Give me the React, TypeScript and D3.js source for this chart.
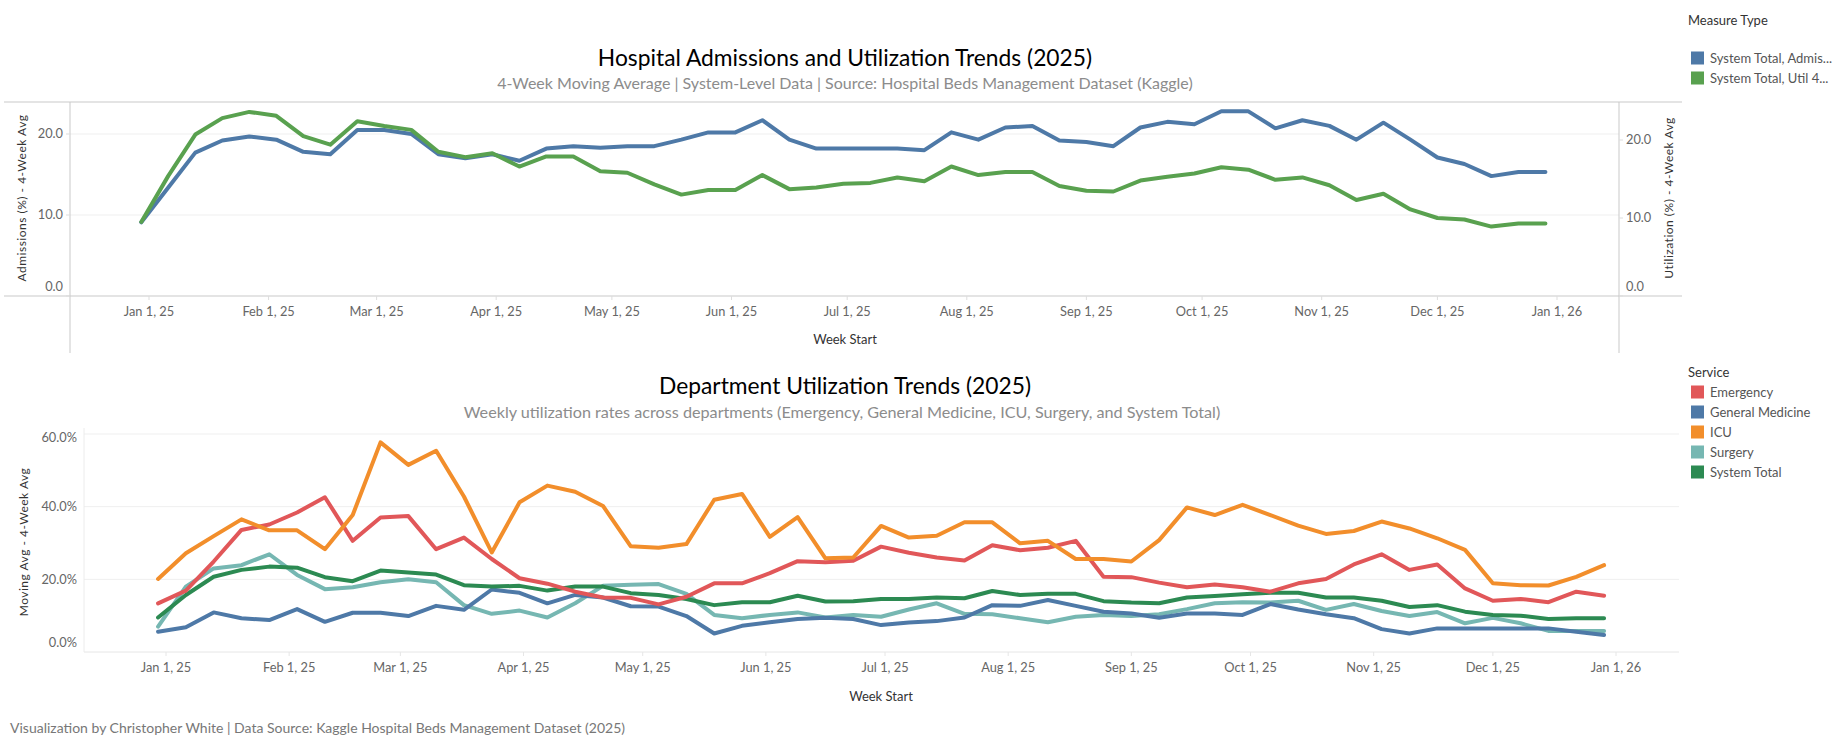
import React from 'react';
import * as d3 from 'd3';

// week start dates (Monday)
const weekStarts = [
  '2024-12-30', '2025-01-06', '2025-01-13', '2025-01-20', '2025-01-27',
  '2025-02-03', '2025-02-10', '2025-02-17', '2025-02-24',
  '2025-03-03', '2025-03-10', '2025-03-17', '2025-03-24', '2025-03-31',
  '2025-04-07', '2025-04-14', '2025-04-21', '2025-04-28',
  '2025-05-05', '2025-05-12', '2025-05-19', '2025-05-26',
  '2025-06-02', '2025-06-09', '2025-06-16', '2025-06-23', '2025-06-30',
  '2025-07-07', '2025-07-14', '2025-07-21', '2025-07-28',
  '2025-08-04', '2025-08-11', '2025-08-18', '2025-08-25',
  '2025-09-01', '2025-09-08', '2025-09-15', '2025-09-22', '2025-09-29',
  '2025-10-06', '2025-10-13', '2025-10-20', '2025-10-27',
  '2025-11-03', '2025-11-10', '2025-11-17', '2025-11-24',
  '2025-12-01', '2025-12-08', '2025-12-15', '2025-12-22', '2025-12-29',
];

// top chart: system total, 4-week averages
const admissionsAvg = [
  9.1, 13.4, 17.7, 19.2, 19.7, 19.3, 17.8, 17.5, 20.5, 20.5, 20.0, 17.5, 17.0, 17.5,
  16.7, 18.2, 18.5, 18.3, 18.5, 18.5, 19.3, 20.2, 20.2, 21.7, 19.3, 18.2, 18.2, 18.2,
  18.2, 18.0, 20.2, 19.3, 20.8, 21.0, 19.2, 19.0, 18.5, 20.8, 21.5, 21.2, 22.8, 22.8,
  20.7, 21.7, 21.0, 19.3, 21.4, 19.3, 17.1, 16.3, 14.8, 15.3, 15.3,
];
const utilizationAvg = [
  9.5, 15.4, 20.7, 22.8, 23.6, 23.1, 20.5, 19.4, 22.4, 21.8, 21.3, 18.5, 17.8, 18.3,
  16.6, 17.9, 17.9, 16.0, 15.8, 14.3, 13.0, 13.6, 13.6, 15.5, 13.7, 13.9, 14.4, 14.5,
  15.2, 14.7, 16.6, 15.5, 15.9, 15.9, 14.1, 13.5, 13.4, 14.8, 15.3, 15.7, 16.5, 16.2,
  14.9, 15.2, 14.2, 12.3, 13.1, 11.1, 10.0, 9.8, 8.9, 9.3, 9.3,
];

// bottom chart: utilization % by service
const emergency = [
  13.4, 16.9, 24.9, 33.6, 35.1, 38.4, 42.6, 30.6, 37.0, 37.4, 28.3, 31.5, 25.6, 20.3,
  18.8, 16.6, 15.0, 14.9, 13.1, 15.2, 18.9, 18.9, 21.7, 25.0, 24.7, 25.1, 29.0, 27.3,
  26.0, 25.2, 29.4, 28.0, 28.7, 30.6, 20.7, 20.6, 19.1, 17.8, 18.6, 17.8, 16.6, 18.9,
  20.1, 24.1, 26.9, 22.6, 24.1, 17.5, 14.1, 14.6, 13.7, 16.6, 15.5,
];
const generalMedicine = [
  5.6, 6.8, 10.9, 9.3, 8.8, 11.8, 8.3, 10.8, 10.8, 9.9, 12.7, 11.6, 17.2, 16.3,
  13.4, 15.7, 15.0, 12.6, 12.5, 9.9, 5.1, 7.2, 8.2, 9.1, 9.4, 9.1, 7.4, 8.1,
  8.5, 9.5, 12.9, 12.7, 14.3, 12.7, 11.1, 10.6, 9.4, 10.6, 10.6, 10.2, 13.2, 11.7,
  10.4, 9.3, 6.3, 5.1, 6.5, 6.5, 6.5, 6.5, 6.5, 5.6, 4.7,
];
const icu = [
  20.1, 27.2, 31.9, 36.5, 33.5, 33.5, 28.3, 37.7, 57.7, 51.5, 55.4, 42.8, 27.4, 41.2,
  45.8, 44.1, 40.2, 29.1, 28.7, 29.7, 41.9, 43.5, 31.7, 37.1, 25.8, 26.0, 34.7, 31.5,
  32.0, 35.7, 35.7, 29.9, 30.6, 25.6, 25.6, 24.9, 30.8, 39.8, 37.7, 40.5, 37.7, 34.8,
  32.5, 33.3, 35.9, 34.0, 31.3, 28.1, 18.9, 18.4, 18.3, 20.7, 23.9,
];
const surgery = [
  7.0, 18.0, 23.0, 23.9, 26.9, 21.2, 17.3, 17.8, 19.2, 20.0, 19.2, 12.9, 10.5, 11.4,
  9.5, 13.4, 18.2, 18.5, 18.7, 16.0, 10.2, 9.3, 10.2, 10.9, 9.5, 10.2, 9.7, 11.7,
  13.4, 10.5, 10.4, 9.3, 8.2, 9.7, 10.2, 9.9, 10.4, 11.8, 13.4, 13.7, 13.6, 14.1,
  11.6, 13.2, 11.3, 9.9, 11.0, 7.9, 9.4, 7.9, 5.8, 5.8, 5.8,
];
const systemTotal = [
  9.5, 15.7, 20.7, 22.6, 23.5, 23.2, 20.6, 19.5, 22.4, 21.9, 21.3, 18.4, 18.0, 18.2,
  16.9, 18.0, 18.0, 16.2, 15.7, 14.6, 12.9, 13.7, 13.7, 15.5, 13.9, 14.0, 14.6, 14.6,
  15.0, 14.8, 16.8, 15.7, 16.0, 16.0, 14.0, 13.6, 13.4, 15.0, 15.4, 15.9, 16.3, 16.3,
  15.0, 15.0, 14.1, 12.4, 12.9, 11.1, 10.2, 10.0, 9.1, 9.3, 9.3,
];

const measureNames = ['System Total, Admis...', 'System Total, Util 4...'];
const measureColors = ['#4e79a7', '#59a14f'];
const serviceNames = ['Emergency', 'General Medicine', 'ICU', 'Surgery', 'System Total'];
const serviceColors = ['#e15759', '#4e79a7', '#f28e2b', '#76b7b2', '#2c8a52'];
const serviceSeries = [emergency, generalMedicine, icu, surgery, systemTotal];
const drawOrder = [3, 1, 4, 0, 2];

const topLeftTicks = [0, 10, 20];
const topRightTicks = [0, 10, 20];
const bottomTicks = [0, 20, 40, 60];

const FONT = "Lato, 'Open Sans', sans-serif";
const parse = d3.timeParse('%Y-%m-%d');
const dates = weekStarts.map((d) => parse(d) as Date);
const fmtDate = d3.timeFormat('%b %-d, %y');
const months = d3.timeMonth.range(new Date(2025, 0, 1), new Date(2026, 0, 2));

const App: React.FC = () => {
  // top chart scales
  const xTop = d3.scaleTime().domain([new Date(2025, 0, 1), new Date(2026, 0, 1)]).range([149, 1557]);
  const yLeft = d3.scaleLinear().domain([0, 20]).range([296, 134]);
  const yRight = d3.scaleLinear().domain([0, 20]).range([296, 140]);

  // bottom chart scales
  const xBot = d3.scaleTime().domain([new Date(2025, 0, 1), new Date(2026, 0, 1)]).range([166, 1616]);
  const yBot = d3.scaleLinear().domain([0, 60]).range([652, 434]);

  const lineTop = (vals: number[], y: d3.ScaleLinear<number, number>) =>
    d3.line<number>().x((_, i) => xTop(dates[i])).y((v) => y(v))(vals) || '';
  const lineBot = (vals: number[]) =>
    d3.line<number>().x((_, i) => xBot(dates[i])).y((v) => yBot(v))(vals) || '';

  const tickText = { fontFamily: FONT, fontSize: 12.8, fill: '#666' };
  const legendText = { fontFamily: FONT, fontSize: 13, fill: '#555' };

  return (
    <svg width={1845} height={737} style={{ position: 'absolute', left: 0, top: 0, background: '#fff' }}>
      {/* ---------- top chart ---------- */}
      <text x={845} y={66} textAnchor="middle" style={{ fontFamily: FONT, fontSize: 22.8, fill: '#000' }}>
        Hospital Admissions and Utilization Trends (2025)
      </text>
      <text x={845} y={89} textAnchor="middle" style={{ fontFamily: FONT, fontSize: 16, fill: '#8c8c8c' }}>
        4-Week Moving Average | System-Level Data | Source: Hospital Beds Management Dataset (Kaggle)
      </text>

      {topLeftTicks.filter((t) => t > 0).map((t) => (
        <line key={'tg' + t} x1={70} x2={1619} y1={yLeft(t)} y2={yLeft(t)} stroke="#efefef" />
      ))}
      <line x1={4} x2={1682} y1={102} y2={102} stroke="#c9c9c9" />
      <line x1={4} x2={1682} y1={296} y2={296} stroke="#c9c9c9" />
      <line x1={70} x2={70} y1={102} y2={353} stroke="#c9c9c9" />
      <line x1={1619} x2={1619} y1={102} y2={353} stroke="#c9c9c9" />

      {topLeftTicks.map((t) => (
        <g key={'tl' + t}>
          <line x1={66} x2={70} y1={yLeft(t)} y2={yLeft(t)} stroke="#ddd" />
          <text x={63} y={yLeft(t) + (t === 0 ? -9 : 0)} dy="0.35em" textAnchor="end" style={tickText}>
            {d3.format('.1f')(t)}
          </text>
        </g>
      ))}
      {topRightTicks.map((t) => (
        <g key={'tr' + t}>
          <line x1={1619} x2={1623} y1={yRight(t)} y2={yRight(t)} stroke="#ddd" />
          <text x={1626} y={yRight(t) + (t === 0 ? -9 : 0)} dy="0.35em" textAnchor="start" style={tickText}>
            {d3.format('.1f')(t)}
          </text>
        </g>
      ))}
      {months.map((m) => (
        <g key={'tm' + m.getTime()}>
          <line x1={xTop(m)} x2={xTop(m)} y1={296} y2={300} stroke="#ddd" />
          <text x={xTop(m)} y={312} dy="0.35em" textAnchor="middle" style={tickText}>
            {fmtDate(m)}
          </text>
        </g>
      ))}
      <text x={845} y={339} dy="0.35em" textAnchor="middle" style={{ fontFamily: FONT, fontSize: 13, fill: '#333' }}>
        Week Start
      </text>
      <text transform="translate(22,198) rotate(-90)" dy="0.35em" textAnchor="middle"
        style={{ fontFamily: FONT, fontSize: 12, fill: '#333', letterSpacing: 0.5 }}>
        Admissions (%) - 4-Week Avg
      </text>
      <text transform="translate(1669,198) rotate(-90)" dy="0.35em" textAnchor="middle"
        style={{ fontFamily: FONT, fontSize: 12, fill: '#333', letterSpacing: 0.5 }}>
        Utilization (%) - 4-Week Avg
      </text>

      <path d={lineTop(admissionsAvg, yLeft)} fill="none" stroke={measureColors[0]} strokeWidth={4}
        strokeLinejoin="round" strokeLinecap="round" />
      <path d={lineTop(utilizationAvg, yRight)} fill="none" stroke={measureColors[1]} strokeWidth={4}
        strokeLinejoin="round" strokeLinecap="round" />

      <text x={1688} y={20} dy="0.35em" style={{ fontFamily: FONT, fontSize: 13, fill: '#333' }}>Measure Type</text>
      {measureNames.map((n, i) => (
        <g key={n} transform={`translate(0,${58 + i * 20})`}>
          <rect x={1691} y={-6.5} width={13} height={13} fill={measureColors[i]} />
          <text x={1710} dy="0.35em" style={legendText}>{n}</text>
        </g>
      ))}

      {/* ---------- bottom chart ---------- */}
      <text x={845} y={394} textAnchor="middle" style={{ fontFamily: FONT, fontSize: 22.8, fill: '#000' }}>
        Department Utilization Trends (2025)
      </text>
      <text x={842} y={418} textAnchor="middle" style={{ fontFamily: FONT, fontSize: 16.2, fill: '#8c8c8c' }}>
        Weekly utilization rates across departments (Emergency, General Medicine, ICU, Surgery, and System Total)
      </text>

      {bottomTicks.filter((t) => t > 0).map((t) => (
        <line key={'bg' + t} x1={84} x2={1679} y1={yBot(t)} y2={yBot(t)} stroke="#efefef" />
      ))}
      <line x1={84} x2={1679} y1={652} y2={652} stroke="#e6e6e6" />
      <line x1={84} x2={84} y1={428} y2={652} stroke="#ececec" />
      {bottomTicks.map((t) => (
        <text key={'bl' + t} x={77} y={yBot(t) + (t === 0 ? -9 : t === 60 ? 4 : 0)} dy="0.35em" textAnchor="end" style={tickText}>
          {d3.format('.1f')(t)}%
        </text>
      ))}
      {months.map((m) => (
        <g key={'bm' + m.getTime()}>
          <line x1={xBot(m)} x2={xBot(m)} y1={652} y2={656} stroke="#e6e6e6" />
          <text x={xBot(m)} y={668} dy="0.35em" textAnchor="middle" style={tickText}>
            {fmtDate(m)}
          </text>
        </g>
      ))}
      <text x={881} y={696} dy="0.35em" textAnchor="middle" style={{ fontFamily: FONT, fontSize: 13, fill: '#333' }}>
        Week Start
      </text>
      <text transform="translate(24,542) rotate(-90)" dy="0.35em" textAnchor="middle"
        style={{ fontFamily: FONT, fontSize: 12, fill: '#333', letterSpacing: 0.5 }}>
        Moving Avg - 4-Week Avg
      </text>

      {drawOrder.map((k) => (
        <path key={serviceNames[k]} d={lineBot(serviceSeries[k])} fill="none" stroke={serviceColors[k]}
          strokeWidth={4} strokeLinejoin="round" strokeLinecap="round" />
      ))}

      <text x={1688} y={372} dy="0.35em" style={{ fontFamily: FONT, fontSize: 13, fill: '#333' }}>Service</text>
      {serviceNames.map((n, i) => (
        <g key={n} transform={`translate(0,${392 + i * 20})`}>
          <rect x={1691} y={-6.5} width={13} height={13} fill={serviceColors[i]} />
          <text x={1710} dy="0.35em" style={legendText}>{n}</text>
        </g>
      ))}

      <text x={10} y={728} dy="0.35em" style={{ fontFamily: FONT, fontSize: 14, fill: '#777' }}>
        Visualization by Christopher White | Data Source: Kaggle Hospital Beds Management Dataset (2025)
      </text>
    </svg>
  );
};

export default App;
